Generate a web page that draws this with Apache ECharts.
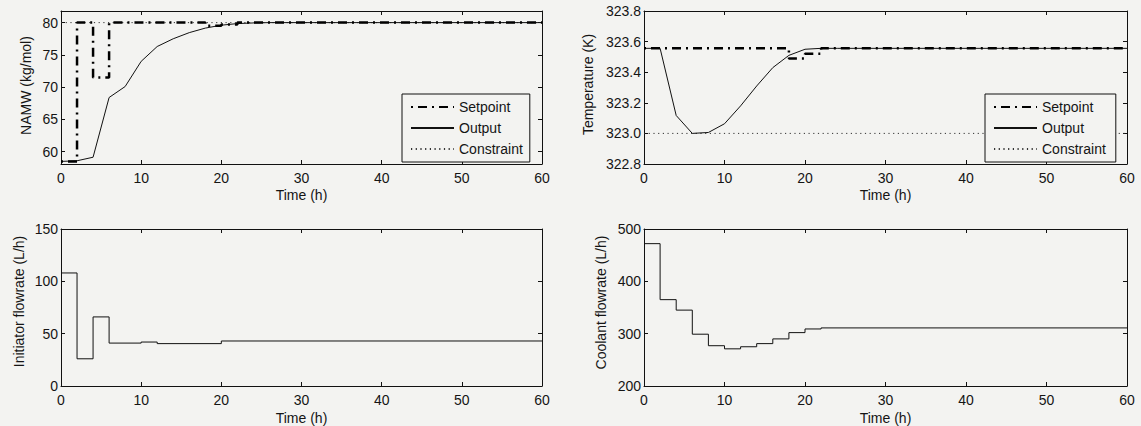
<!DOCTYPE html>
<html><head><meta charset="utf-8">
<script src="https://cdn.jsdelivr.net/npm/echarts@6/dist/echarts.min.js"></script>
<style>html,body{margin:0;padding:0;background:#f3f3f1}#c{width:1141px;height:426px}</style>
</head><body><div id="c"></div>
<script>
// ---- data ----
const timeTicks = [0, 10, 20, 30, 40, 50, 60];
const namwTicks = [60, 65, 70, 75, 80];
const tempTicks = [322.8, 323.0, 323.2, 323.4, 323.6, 323.8];
const initTicks = [0, 50, 100, 150];
const coolTicks = [200, 300, 400, 500];
const legendNames = ['Setpoint', 'Output', 'Constraint'];

const namwSetT = [0, 2, 4, 6, 18, 20, 22, 60];
const namwSetV = [58.5, 80, 71.5, 80, 79.5, 79.7, 80, 80];
const namwOutT = [0, 2, 4, 6, 8, 10, 12, 14, 16, 18, 20, 22, 24, 26, 60];
const namwOutV = [58.5, 58.6, 59.15, 68.4, 70.1, 74.0, 76.3, 77.5, 78.45, 79.15, 79.6, 79.85, 79.95, 80, 80];
const namwConT = [0, 60];
const namwConV = [80, 80];

const tempSetT = [0, 18, 20, 22, 60];
const tempSetV = [323.556, 323.49, 323.52, 323.556, 323.556];
const tempOutT = [0, 2, 4, 6, 8, 10, 12, 14, 16, 18, 20, 22, 24, 60];
const tempOutV = [323.556, 323.556, 323.117, 323.0, 323.006, 323.063, 323.18, 323.31, 323.43, 323.51, 323.55, 323.556, 323.556, 323.556];
const tempConT = [0, 60];
const tempConV = [323.0, 323.0];

const initT = [0, 2, 4, 6, 10, 12, 20, 60];
const initV = [108, 26, 66, 41, 42, 40.5, 43, 43];
const coolT = [0, 2, 4, 6, 8, 10, 12, 14, 16, 18, 20, 22, 60];
const coolV = [472, 365, 345, 299, 277, 271, 275, 281, 290, 302, 309, 311, 311];

// ---- build ----
const FONT = 'Liberation Sans, Arial, Helvetica, sans-serif';
const TXT = '#151515';
const BG = '#f3f3f1';
const pairs = (t, v) => t.map((x, i) => [x, v[i]]);

const grids = [
  { left: 61, top: 11, width: 481, height: 153 },
  { left: 644, top: 11, width: 483, height: 153 },
  { left: 61, top: 229, width: 481, height: 158 },
  { left: 644, top: 229, width: 483, height: 157 }
];
const yCfg = [
  { min: 58.1, max: 81.8, ticks: namwTicks, name: 'NAMW (kg/mol)', gap: 28, shift: 4, fmt: v => String(v) },
  { min: 322.8, max: 323.8, ticks: tempTicks, name: 'Temperature (K)', gap: 49, shift: 6, fmt: v => v.toFixed(1) },
  { min: 0, max: 150, ticks: initTicks, name: 'Initiator flowrate (L/h)', gap: 35, shift: 12, fmt: v => String(v) },
  { min: 200, max: 500, ticks: coolTicks, name: 'Coolant flowrate (L/h)', gap: 36, shift: 10, fmt: v => String(v) }
];
const axisLine = { show: true, onZero: false, lineStyle: { color: '#111', width: 1 } };
const xAxes = [], yAxes = [];
grids.forEach((g, i) => {
  xAxes.push({
    type: 'value', gridIndex: i, min: 0, max: 60, position: 'bottom',
    axisLine, splitLine: { show: false },
    axisTick: { inside: true, length: 4, lineStyle: { color: '#111' }, customValues: timeTicks },
    axisLabel: { customValues: timeTicks, margin: 7, fontSize: 14, color: TXT, fontFamily: FONT },
    name: 'Time (h)', nameLocation: 'middle', nameGap: i < 2 ? 24 : 25,
    nameTextStyle: { fontSize: 14, color: TXT, fontFamily: FONT }
  });
  xAxes.push({
    type: 'value', gridIndex: i, min: 0, max: 60, position: 'top',
    axisLine, splitLine: { show: false },
    axisTick: { inside: true, length: 4, lineStyle: { color: '#111' }, customValues: timeTicks },
    axisLabel: { show: false }
  });
  const y = yCfg[i];
  yAxes.push({
    type: 'value', gridIndex: i, min: y.min, max: y.max, position: 'left',
    axisLine, splitLine: { show: false },
    axisTick: { inside: true, length: 4, lineStyle: { color: '#111' }, customValues: y.ticks },
    axisLabel: { customValues: y.ticks, formatter: y.fmt, margin: 3, fontSize: 14, color: TXT, fontFamily: FONT },
    name: y.name, nameLocation: 'middle', nameGap: y.gap, nameRotate: 90,
    nameTextStyle: { fontSize: 14, color: TXT, fontFamily: FONT, padding: [0, 0, 0, y.shift] }
  });
  yAxes.push({
    type: 'value', gridIndex: i, min: y.min, max: y.max, position: 'right',
    axisLine, splitLine: { show: false },
    axisTick: { inside: true, length: 4, lineStyle: { color: '#111' }, customValues: y.ticks },
    axisLabel: { show: false }
  });
});

const setStyle = { color: '#000', width: 2.5, type: [9, 5, 2, 5], dashOffset: 14 };
const outStyle = { color: '#111', width: 1, type: 'solid' };
const conStyle = { color: '#333', width: 1, type: [1.2, 3.5] };
function line(name, gi, data, style, step) {
  return {
    name, type: 'line', xAxisIndex: gi * 2, yAxisIndex: gi * 2, data,
    step: step || false, symbol: 'none', silent: true, animation: false,
    lineStyle: style, itemStyle: { color: style.color }
  };
}
const series = [
  line('Constraint', 0, pairs(namwConT, namwConV), conStyle),
  line('Output', 0, pairs(namwOutT, namwOutV), outStyle),
  line('Setpoint', 0, pairs(namwSetT, namwSetV), setStyle, 'end'),
  line('Constraint', 1, pairs(tempConT, tempConV), conStyle),
  line('Output', 1, pairs(tempOutT, tempOutV), outStyle),
  line('Setpoint', 1, pairs(tempSetT, tempSetV), setStyle, 'end'),
  line('Initiator', 2, pairs(initT, initV), outStyle, 'end'),
  line('Coolant', 3, pairs(coolT, coolV), outStyle, 'end')
];
function legend(left, top, padR) {
  return {
    data: legendNames, orient: 'vertical', left, top,
    itemWidth: 43, itemHeight: 14, itemGap: 7, itemTextGap: 7,
    padding: [6, padR, 6, 8], borderColor: '#111', borderWidth: 1,
    backgroundColor: BG,
    itemStyle: { opacity: 0, borderWidth: 0 },
    textStyle: { fontSize: 14, color: TXT, fontFamily: FONT },
    selectedMode: false
  };
}
const chart = echarts.init(document.getElementById('c'), null, { renderer: 'svg' });
chart.setOption({
  backgroundColor: BG,
  animation: false,
  textStyle: { fontFamily: FONT },
  grid: grids,
  xAxis: xAxes,
  yAxis: yAxes,
  legend: [legend(402, 94, 7), legend(985, 94, 10)],
  series
});
</script></body></html>
